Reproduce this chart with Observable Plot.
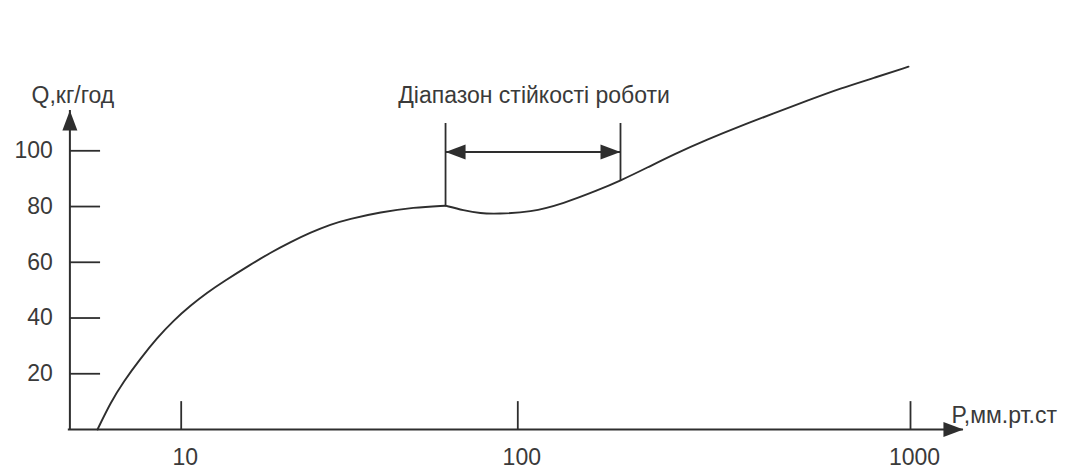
<!DOCTYPE html>
<html>
<head>
<meta charset="utf-8">
<script src="https://cdn.jsdelivr.net/npm/d3@7"></script>
<script src="https://cdn.jsdelivr.net/npm/@observablehq/plot@0.6"></script>
<style>
  html, body { margin: 0; padding: 0; background: #fff; }
  #chart svg { display: block; }
</style>
</head>
<body>
<div id="chart"></div>
<script>
// ---- data ----
const pressure = [5.64, 6.17, 6.74, 7.57, 8.50, 9.49, 10.66, 11.97, 13.36, 16.07, 18.45, 21.16, 24.25, 27.81, 31.4, 39.1, 49.0, 61.0, 69.0, 77.4, 87.1, 107.7, 130.7, 159.6, 182.6, 213.9, 249.2, 304.2, 369.2, 447.8, 546.6, 663.6, 805.2, 988.3];
const output   = [0,    9.7,  17.2, 25.5, 33.0, 39.1, 44.5,  49.2,  53.1,  59.2,  63.5,  67.3,  70.7,  73.6,  75.5, 78.0, 79.7, 80.3, 78.6, 77.5, 77.4, 77.9, 81.1, 85.8, 89.3, 94.0, 98.7, 104.1, 108.9, 113.4, 118.0, 122.4, 126.1, 130.2];

const xTickValues = [10, 100, 1000];
const xTickLabels = ["10", "100", "1000"];
const yTickValues = [20, 40, 60, 80, 100];
const yTickLabels = ["20", "40", "60", "80", "100"];

const stableRange = [61.0, 182.6];     // P bounds of the stable range
const stableQ = [80.3, 89.3];          // curve values at the bounds
const bracketTopQ = 109.8;
const arrowQ = 99.6;
const rangeLabel = "Діапазон стійкості роботи";
const rangeLabelP = 110;
const rangeLabelQ = 117;

const axisOriginP = 4.67;   // where the y axis sits
const axisEndP = 1364;      // tip of x-axis arrow
const axisTopQ = 114.5;     // tip of y-axis arrow
const yTickEndP = 5.76;     // inner end of y tick marks
const xTickTopQ = 10;       // top of x tick marks
const xTitle = "P,мм.рт.ст";
const yTitle = "Q,кг/год";

// ---- build tables ----
// split the curve at the peak (left bound of the stable range) so the corner is kept
const curve = [];
pressure.forEach((p, i) => {
  if (p <= stableRange[0]) curve.push({p, q: output[i], part: "rise"});
  if (p >= stableRange[0]) curve.push({p, q: output[i], part: "after"});
});
const xTicks = xTickValues.map((v, i) => ({v, label: xTickLabels[i]}));
const yTicks = yTickValues.map((v, i) => ({v, label: yTickLabels[i]}));

// elongated filled arrowhead pointing right, tip at origin
const arrowHead = {
  draw(ctx) {
    ctx.moveTo(0, 0);
    ctx.lineTo(-20, -7.5);
    ctx.lineTo(-20, 7.5);
    ctx.closePath();
  }
};

const ink = "#2e2e2e";
const textInk = "#3a3a3a";
const font = 23;

const chart = Plot.plot({
  width: 1080,
  height: 469,
  style: {background: "#fff", fontFamily: "'Liberation Sans', Arial, sans-serif"},
  x: {type: "log", domain: [10, 100, 1000], range: [180.7, 517.3, 910], axis: null},
  y: {type: "linear", domain: [0, 100], range: [429, 150.3], axis: null},
  marks: [
    // axes
    Plot.ruleY([0], {x1: axisOriginP - 0.05, x2: axisEndP, stroke: ink, strokeWidth: 2}),
    Plot.ruleX([axisOriginP], {y1: 0, y2: axisTopQ, stroke: ink, strokeWidth: 2}),
    Plot.dot([{p: axisEndP, q: 0}], {x: "p", y: "q", symbol: arrowHead, fill: ink, stroke: null, rotate: 0}),
    Plot.dot([{p: axisOriginP, q: axisTopQ}], {x: "p", y: "q", symbol: arrowHead, fill: ink, stroke: null, rotate: -90}),
    // ticks
    Plot.ruleX(xTicks, {x: "v", y1: 0, y2: xTickTopQ, stroke: ink, strokeWidth: 1.8}),
    Plot.ruleY(yTicks, {y: "v", x1: axisOriginP, x2: yTickEndP, stroke: ink, strokeWidth: 1.8}),
    Plot.text(xTicks, {x: "v", y: 0, text: "label", dx: 4, dy: 19, lineAnchor: "top", fontSize: font, fill: textInk}),
    Plot.text(yTicks, {x: axisOriginP, y: "v", text: "label", dx: -17, textAnchor: "end", lineAnchor: "middle", fontSize: font, fill: textInk}),
    // axis titles
    Plot.text([yTitle], {x: axisOriginP, y: axisTopQ, text: d => d, dx: 3, dy: -7, lineAnchor: "bottom", fontSize: font, fill: textInk}),
    Plot.text([xTitle], {x: axisEndP, y: 0, text: d => d, dx: -12, dy: -7, textAnchor: "start", lineAnchor: "bottom", fontSize: font, fill: textInk}),
    // curve
    Plot.line(curve, {x: "p", y: "q", z: "part", curve: "basis", stroke: ink, strokeWidth: 1.9}),
    // stability range bracket
    Plot.ruleX(stableRange.map((p, i) => ({p, q: stableQ[i]})), {x: "p", y1: "q", y2: bracketTopQ, stroke: ink, strokeWidth: 1.8}),
    Plot.ruleY([arrowQ], {x1: stableRange[0], x2: stableRange[1], stroke: ink, strokeWidth: 2}),
    Plot.dot([{p: stableRange[0], q: arrowQ, r: 180}, {p: stableRange[1], q: arrowQ, r: 0}], {x: "p", y: "q", symbol: arrowHead, fill: ink, stroke: null, rotate: "r"}),
    Plot.text([rangeLabel], {x: rangeLabelP, y: rangeLabelQ, text: d => d, lineAnchor: "bottom", fontSize: font, fill: textInk})
  ]
});
document.getElementById("chart").appendChild(chart);
</script>
</body>
</html>
